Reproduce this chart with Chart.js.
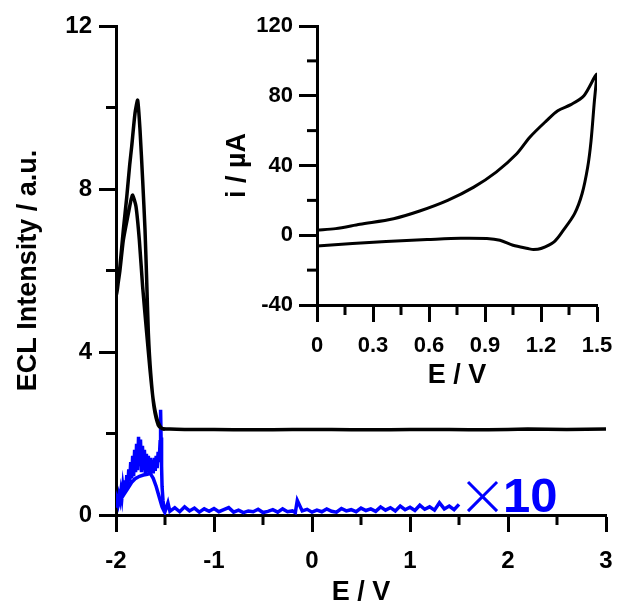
<!DOCTYPE html>
<html>
<head>
<meta charset="utf-8">
<script src="https://cdn.jsdelivr.net/npm/chart.js@4.4.0/dist/chart.umd.min.js"></script>
<style>
  html, body { margin: 0; padding: 0; background: #fff; }
  #wrap { position: relative; width: 617px; height: 601px; }
  #mainChart { position: absolute; left: 0; top: 0; }
  #insetChart { position: absolute; left: 200px; top: 0; }
</style>
</head>
<body>
<div id="wrap">
  <canvas id="mainChart" width="617" height="601"></canvas>
  <canvas id="insetChart" width="417" height="400"></canvas>
</div>
<script>
// ECL intensity (black): flat return scan, inner loop, outer loop
const eclPotential = [3.0, 2.6, 2.2, 1.8, 1.4, 1.0, 0.6, 0.2, -0.2, -0.6, -1.0, -1.3, -1.45, -1.534,
  -1.579, -1.62, -1.653, -1.687, -1.728, -1.762, -1.796, -1.83, -1.845, -1.874, -1.925, -1.96, -1.99, -2.0,
  -1.985, -1.96, -1.925, -1.89, -1.86, -1.84, -1.806, -1.779, -1.755, -1.728, -1.704, -1.687, -1.67, -1.646,
  -1.612, -1.568, -1.53, -1.5];
const eclIntensity = [2.11, 2.1, 2.11, 2.09, 2.1, 2.1, 2.09, 2.1, 2.1, 2.09, 2.1, 2.1, 2.11, 2.13,
  2.33, 2.82, 3.56, 4.47, 5.6, 6.75, 7.57, 7.85, 7.75, 7.4, 6.75, 6.0, 5.5, 5.36,
  5.55, 6.1, 7.0, 7.81, 8.6, 9.04, 9.86, 10.18, 9.45, 8.22, 7.0, 5.77, 4.47, 3.48,
  2.65, 2.2, 2.12, 2.1];

// ECL x10 (blue): lower branch, noisy upper branch with spike, then baseline
const blueE = [-1.5, -1.53, -1.56, -1.59, -1.62, -1.65, -1.68, -1.72, -1.76, -1.8, -1.84, -1.88, -1.92, -1.96, -2.0,
  -2.0, -1.99, -1.98, -1.97, -1.96, -1.95, -1.94, -1.93, -1.92, -1.91, -1.9, -1.89, -1.88, -1.87, -1.86,
  -1.85, -1.84, -1.83, -1.82, -1.81, -1.8, -1.79, -1.78, -1.77, -1.76, -1.75, -1.74, -1.73, -1.72, -1.71,
  -1.7, -1.69, -1.68, -1.67, -1.66, -1.65, -1.64, -1.63, -1.62, -1.61, -1.6, -1.59, -1.58, -1.57, -1.56,
  -1.55, -1.545, -1.54, -1.535, -1.53, -1.52, -1.51, -1.5,
  -1.47, -1.45, -1.4, -1.35, -1.3, -1.25, -1.2, -1.15, -1.1, -1.05, -1.0, -0.95, -0.9, -0.85, -0.8, -0.75, -0.7,
  -0.65, -0.6, -0.55, -0.5, -0.45, -0.4, -0.35, -0.3, -0.25, -0.2, -0.17, -0.15, -0.1, -0.05, 0.0, 0.05,
  0.1, 0.15, 0.2, 0.25, 0.3, 0.35, 0.4, 0.45, 0.5, 0.55, 0.6, 0.65, 0.7, 0.75, 0.8, 0.85, 0.9, 0.95,
  1.0, 1.05, 1.1, 1.15, 1.2, 1.25, 1.3, 1.35, 1.4, 1.45, 1.5];
const blueI = [0.05, 0.2, 0.45, 0.7, 0.9, 1.02, 1.0, 0.98, 0.95, 0.9, 0.8, 0.65, 0.5, 0.35, 0.22,
  0.3, 0.42, 0.28, 0.47, 0.36, 0.58, 0.42, 0.7, 0.5, 0.85, 0.62, 0.98, 0.7, 1.12, 0.82,
  1.3, 0.9, 1.45, 0.95, 1.6, 1.05, 1.75, 1.1, 1.92, 1.2, 1.85, 1.05, 1.7, 1.1, 1.6,
  1.0, 1.5, 1.05, 1.45, 1.0, 1.4, 1.05, 1.35, 1.02, 1.4, 1.08, 1.45, 1.15, 1.55, 1.3,
  1.8, 2.58, 1.9, 1.2, 0.7, 0.35, 0.15, 0.08,
  0.3, 0.09, 0.18, 0.08, 0.2, 0.1, 0.17, 0.07, 0.15, 0.09, 0.16, 0.08, 0.13, 0.18, 0.07, 0.12, 0.06, 0.1,
  0.08, 0.14, 0.06, 0.09, 0.13, 0.07, 0.15, 0.08, 0.1, 0.06, 0.36, 0.1, 0.14, 0.07, 0.12, 0.08,
  0.15, 0.09, 0.07, 0.16, 0.1, 0.13, 0.08, 0.17, 0.11, 0.15, 0.09, 0.2, 0.12, 0.18, 0.1, 0.22, 0.13, 0.19,
  0.11, 0.24, 0.14, 0.2, 0.12, 0.3, 0.15, 0.22, 0.13, 0.26, 0.15];

// cyclic voltammogram (inset): forward then reverse scan
const cvPotential = [0.0, 0.1, 0.23, 0.41, 0.55, 0.7, 0.84, 0.96, 1.07, 1.14, 1.23, 1.29, 1.36, 1.43, 1.5,
  1.486, 1.468, 1.45, 1.42, 1.38, 1.32, 1.27, 1.2, 1.16, 1.13, 1.05, 0.98, 0.91, 0.77, 0.59, 0.37, 0.19, 0.0];
const cvCurrent = [2.9, 3.8, 6.3, 9.5, 13.9, 20, 27.6, 36.2, 46.7, 56.2, 65.7, 71.4, 74.9, 80, 92.4,
  77, 54, 39, 23.8, 12.4, 2.9, -3.8, -7.6, -8.2, -7.6, -5.7, -2.9, -1.9, -1.7, -2.5, -3.6, -4.8, -6.1];

// tick positions
const mainXTicks = [-2, -1, 0, 1, 2, 3];
const mainYTicks = [0, 4, 8, 12];
const mainMinorX = [-1.5, -0.5, 0.5, 1.5, 2.5];
const mainMinorY = [2, 6, 10];
const insetXTicks = [0, 0.3, 0.6, 0.9, 1.2, 1.5];
const insetYTicks = [-40, 0, 40, 80, 120];
const insetMinorX = [0.15, 0.45, 0.75, 1.05, 1.35];
const insetMinorY = [-20, 20, 60, 100];

Chart.defaults.font.family = '"Liberation Sans", Arial, sans-serif';
Chart.defaults.font.weight = 'bold';
Chart.defaults.color = '#000';

const toPoints = (xs, ys) => xs.map((x, i) => ({ x: x, y: ys[i] }));

// short ticks between the labelled ones
const minorTicks = {
  id: 'minorTicks',
  afterDraw(chart, args, opts) {
    const ctx = chart.ctx;
    const xs = chart.scales.x, ys = chart.scales.y;
    ctx.save();
    ctx.strokeStyle = '#000';
    ctx.lineWidth = 3;
    opts.x.forEach(v => {
      const px = xs.getPixelForValue(v);
      ctx.beginPath(); ctx.moveTo(px, xs.top); ctx.lineTo(px, xs.top + opts.len); ctx.stroke();
    });
    opts.y.forEach(v => {
      const py = ys.getPixelForValue(v);
      ctx.beginPath(); ctx.moveTo(ys.right, py); ctx.lineTo(ys.right - opts.len, py); ctx.stroke();
    });
    ctx.restore();
  }
};

// "x10" marker next to the blue trace
const timesTen = {
  id: 'timesTen',
  afterDraw(chart) {
    const ctx = chart.ctx;
    const xs = chart.scales.x, ys = chart.scales.y;
    const base = ys.getPixelForValue(0.07);
    ctx.save();
    ctx.fillStyle = '#0000ff';
    ctx.textBaseline = 'alphabetic';
    ctx.textAlign = 'left';
    ctx.font = '300 72px "Open Sans", "Liberation Sans", sans-serif';
    ctx.fillText('\u00d7', xs.getPixelForValue(1.53), base + 10);
    ctx.font = 'bold 49px "Liberation Sans", Arial, sans-serif';
    ctx.fillText('10', xs.getPixelForValue(1.95), base);
    ctx.restore();
  }
};

const axisStyle = (tickLen) => ({
  grid: { drawOnChartArea: false, drawTicks: true, tickLength: tickLen, tickWidth: 3, tickColor: '#000', color: '#000' },
  border: { display: true, width: 3, color: '#000' }
});

// keep the plot edges where the layout padding puts them
const noEdgePadding = s => { s.paddingLeft = 0; s.paddingRight = 0; };

new Chart(document.getElementById('mainChart'), {
  type: 'scatter',
  data: {
    datasets: [
      { data: toPoints(eclPotential, eclIntensity), showLine: true, borderColor: '#000', borderWidth: 3.5,
        pointRadius: 0, tension: 0.2 },
      { data: toPoints(blueE, blueI), showLine: true, borderColor: '#0000ff', borderWidth: 3.5,
        pointRadius: 0, tension: 0 }
    ]
  },
  options: {
    responsive: false,
    animation: false,
    layout: { padding: { top: 26, right: 11, left: 0, bottom: 0 } },
    plugins: {
      legend: { display: false },
      tooltip: { enabled: false },
      minorTicks: { x: mainMinorX, y: mainMinorY, len: 10 }
    },
    scales: {
      x: {
        type: 'linear', min: -2, max: 3,
        ...axisStyle(17),
        afterBuildTicks: s => { s.ticks = mainXTicks.map(v => ({ value: v })); },
        afterFit: s => { s.height = 86; noEdgePadding(s); },
        ticks: { font: { size: 24 }, padding: 15, maxRotation: 0 },
        title: { display: true, text: 'E / V', font: { size: 27, lineHeight: 0.6 }, padding: { top: 0, bottom: 0 } }
      },
      y: {
        type: 'linear', min: 0, max: 12,
        ...axisStyle(17),
        afterBuildTicks: s => { s.ticks = mainYTicks.map(v => ({ value: v })); },
        afterFit: s => { s.width = 116; },
        ticks: { font: { size: 24 }, padding: 7 },
        title: { display: true, text: 'ECL Intensity / a.u.', font: { size: 27, lineHeight: 1 }, padding: { top: 15, bottom: 0 } }
      }
    }
  },
  plugins: [minorTicks, timesTen]
});

new Chart(document.getElementById('insetChart'), {
  type: 'scatter',
  data: {
    datasets: [
      { data: toPoints(cvPotential, cvCurrent), showLine: true, borderColor: '#000', borderWidth: 3,
        pointRadius: 0, tension: 0.3 }
    ]
  },
  options: {
    responsive: false,
    animation: false,
    layout: { padding: { top: 26, right: 20, left: 0, bottom: 0 } },
    plugins: {
      legend: { display: false },
      tooltip: { enabled: false },
      minorTicks: { x: insetMinorX, y: insetMinorY, len: 10 }
    },
    scales: {
      x: {
        type: 'linear', min: 0, max: 1.5,
        ...axisStyle(17),
        afterBuildTicks: s => { s.ticks = insetXTicks.map(v => ({ value: v })); },
        afterFit: s => { s.height = 95; noEdgePadding(s); },
        ticks: { font: { size: 22 }, padding: 11, maxRotation: 0, callback: v => String(Math.round(v * 10) / 10) },
        title: { display: true, text: 'E / V', font: { size: 27, lineHeight: 1 }, padding: { top: 0, bottom: 11 } }
      },
      y: {
        type: 'linear', min: -40, max: 120,
        ...axisStyle(18),
        afterBuildTicks: s => { s.ticks = insetYTicks.map(v => ({ value: v })); },
        afterFit: s => { s.width = 117; },
        ticks: { font: { size: 22 }, padding: 6 },
        title: { display: true, text: 'i / \u00b5A', font: { size: 27, lineHeight: 1 }, padding: { top: 24, bottom: 0 } }
      }
    }
  },
  plugins: [minorTicks]
});
</script>
</body>
</html>
